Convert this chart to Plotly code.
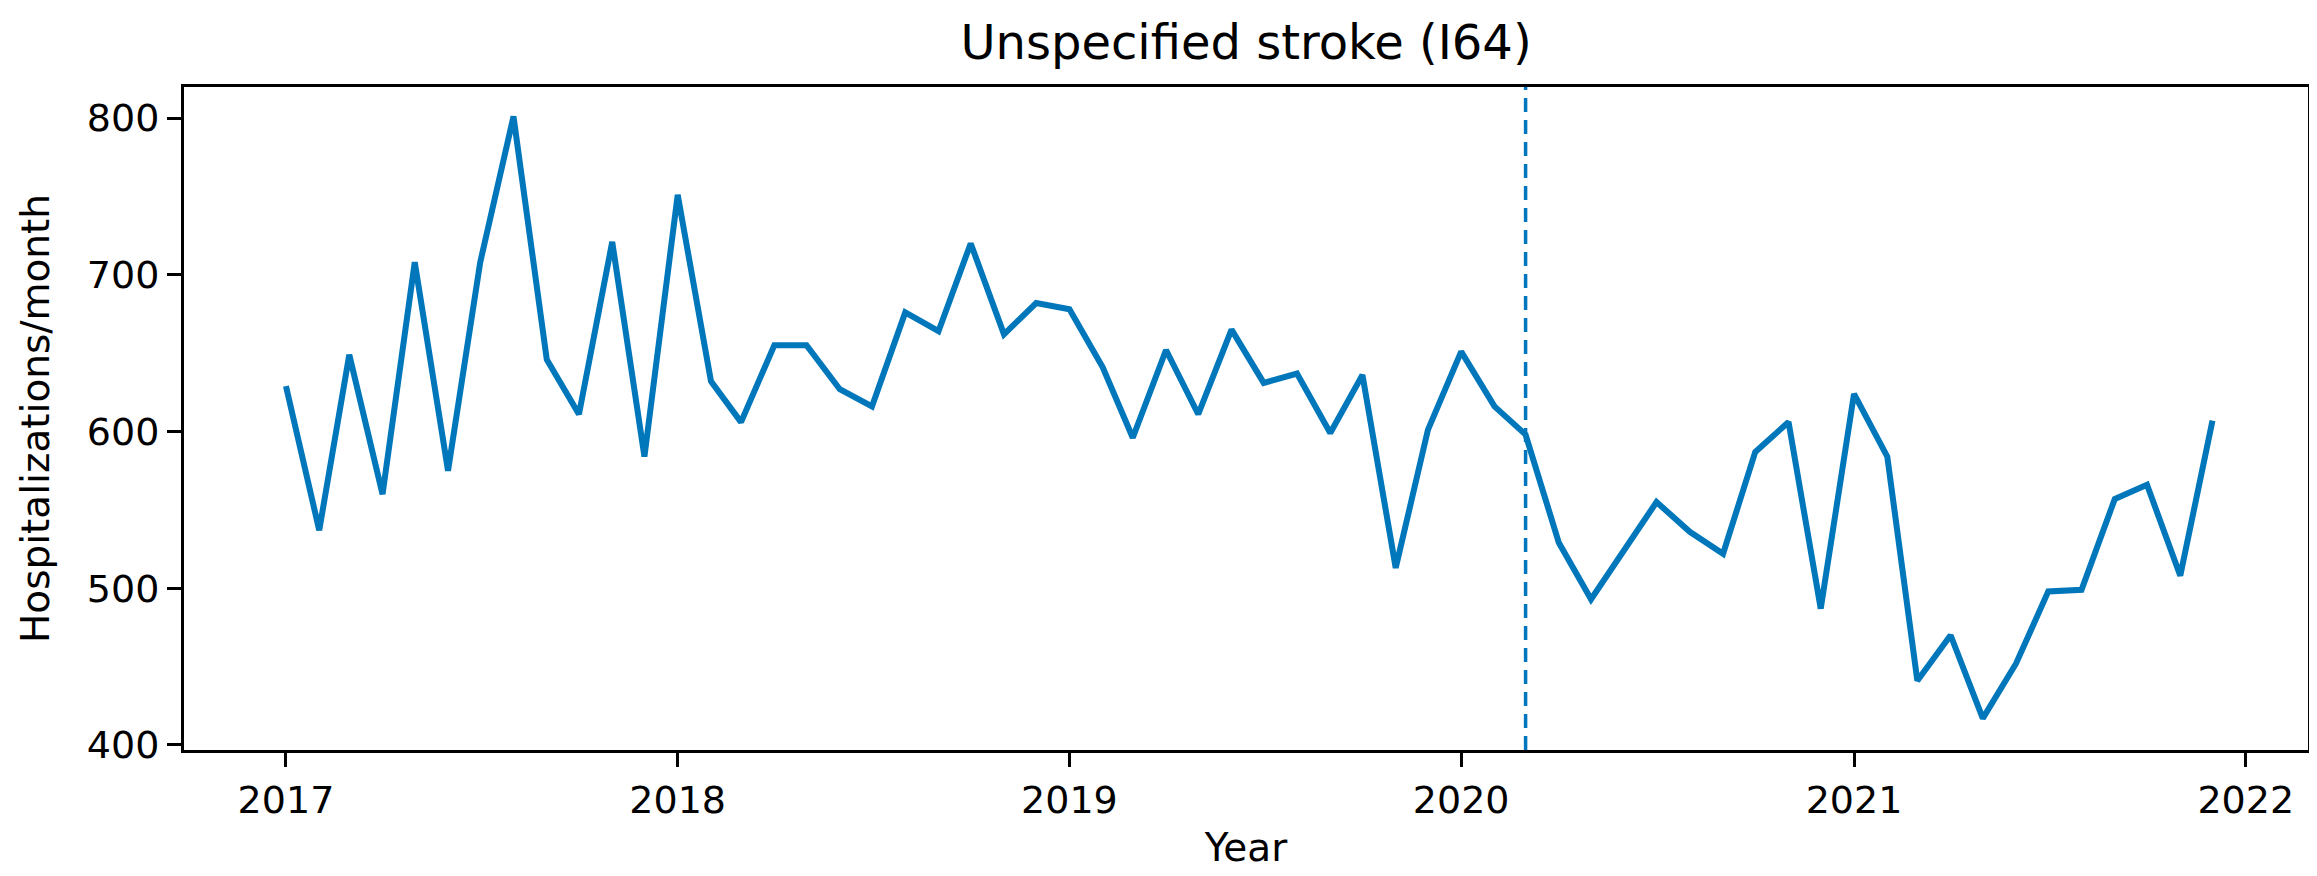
import pandas as pd
import plotly.graph_objects as go

# monthly counts, Jan 2017 .. Dec 2021
months = pd.date_range("2017-01-01", "2021-12-01", freq="MS")
hospitalizations = [
    629, 537, 649, 560, 708, 575, 708, 801, 646, 611, 721, 584,
    751, 632, 606, 655, 655, 627, 616, 676, 664, 720, 662, 682,
    678, 641, 596, 652, 611, 665, 631, 637, 599, 636, 513, 601,
    651, 616, 598, 529, 493, 525, 555, 536, 522, 587, 606, 487,
    624, 584, 441, 470, 417, 452, 498, 499, 557, 566, 508, 607,
]
cutoff = "2020-03-01"
title = "Unspecified stroke (I64)"
year_ticks = ["2017-01-01", "2018-01-01", "2019-01-01", "2020-01-01", "2021-01-01", "2022-01-01"]
year_labels = ["2017", "2018", "2019", "2020", "2021", "2022"]

blue = "#0077bb"
font = "DejaVu Sans"

fig = go.Figure()
fig.add_trace(go.Scatter(
    x=months,
    y=hospitalizations,
    mode="lines",
    line=dict(color=blue, width=6),
    showlegend=False,
))
fig.add_vline(x=cutoff, line=dict(color=blue, width=3.5, dash="14px,8px"))

axis_style = dict(
    showline=True, linecolor="black", linewidth=3, mirror=True,
    ticks="outside", ticklen=14, tickwidth=3, tickcolor="black",
    showgrid=False, zeroline=False,
    tickfont=dict(family=font, size=38, color="black"),
)

fig.update_xaxes(
    title=dict(text="Year", font=dict(family=font, size=39, color="black"), standoff=14),
    range=["2016-09-28", "2022-02-28"],
    tickvals=year_ticks,
    ticktext=year_labels,
    **axis_style,
)
fig.update_yaxes(
    title=dict(text="Hospitalizations/month", font=dict(family=font, size=39, color="black"), standoff=26),
    range=[396.8, 819.8],
    tickvals=[400, 500, 600, 700, 800],
    **axis_style,
)

fig.update_layout(
    width=2317, height=876,
    paper_bgcolor="white", plot_bgcolor="white",
    margin=dict(l=176, r=17, t=79, b=134),
    title=dict(text=title, x=0.5, xref="paper", y=1 - 34 / 876, yref="container",
               yanchor="middle", font=dict(family=font, size=48, color="black")),
)

fig.write_html("out.html")
